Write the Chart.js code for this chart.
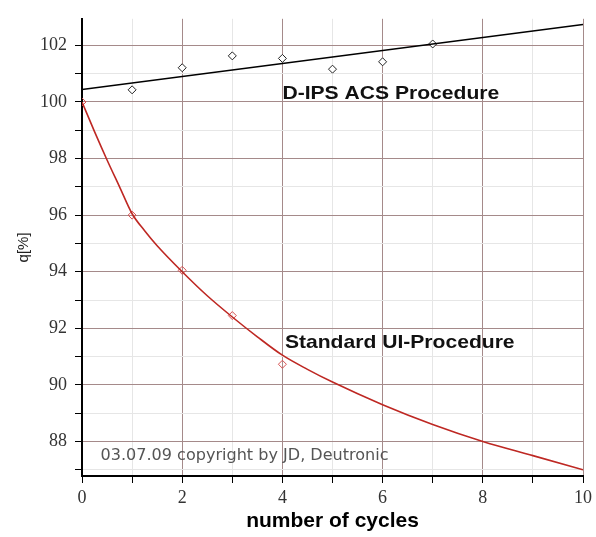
<!DOCTYPE html>
<html>
<head>
<meta charset="utf-8">
<script src="https://cdn.jsdelivr.net/npm/chart.js@4/dist/chart.umd.min.js"></script>
<style>
  html, body { margin: 0; padding: 0; background: #fff; }
  #wrap { width: 596px; height: 537px; }
</style>
</head>
<body>
<div id="wrap"><canvas id="chart" width="596" height="537"></canvas></div>
<script>
// measured points, D-IPS ACS procedure
const acsCycles = [1, 2, 3, 4, 5, 6, 7];
const acsValues = [100.43, 101.21, 101.63, 101.54, 101.16, 101.42, 102.05];
// linear fit of the ACS points
const acsFitCycles = [0, 10];
const acsFitValues = [100.44, 102.74];

// measured points, standard UI procedure
const stdCycles = [0, 1, 2, 3, 4];
const stdValues = [100, 96.0, 94.05, 92.45, 90.73];
// fitted curve for the standard procedure
const stdFitCycles = [0, 0.25, 0.5, 0.75, 1, 1.25, 1.5, 2, 2.5, 3, 3.5, 4, 4.5, 5, 6, 7, 8, 9, 10];
const stdFitValues = [100, 98.95, 97.95, 97.0, 96.05, 95.45, 94.92, 94.0, 93.15, 92.4, 91.7, 91.05, 90.55, 90.1, 89.3, 88.6, 88.0, 87.5, 87.0];

// text labels placed in data units
const labelTexts = ['D-IPS ACS Procedure', 'Standard UI-Procedure', '03.07.09 copyright by JD, Deutronic'];
const labelX = [4.0, 4.05, 0.37];
const labelY = [100.28, 91.5, 87.48];

const xTitle = 'number of cycles';
const yTitle = 'q[%]';

function pts(xs, ys) {
    return xs.map((x, i) => ({ x: x, y: ys[i] }));
}

const labelFonts = [
    'bold 19px "Liberation Sans", Arial, sans-serif',
    'bold 19px "Liberation Sans", Arial, sans-serif',
    '15px "DejaVu Sans", sans-serif'
];
const labelStretch = [1.11, 1.11, 1.07];
const labelColors = ['#111', '#111', '#555'];

// free text drawn on the plot, slightly widened like the original
const textLabels = {
    id: 'textLabels',
    afterDatasetsDraw(chart) {
        const ctx = chart.ctx;
        const xs = chart.scales.x, ys = chart.scales.y;
        labelTexts.forEach((t, i) => {
            ctx.save();
            ctx.textBaseline = 'middle';
            ctx.textAlign = 'left';
            ctx.font = labelFonts[i];
            ctx.fillStyle = labelColors[i];
            ctx.translate(xs.getPixelForValue(labelX[i]), ys.getPixelForValue(labelY[i]));
            ctx.scale(labelStretch[i], 1);
            ctx.fillText(t, 0, 0);
            ctx.restore();
        });
    }
};

const majorGrid = 'rgb(165,138,138)';
const minorGrid = 'rgb(230,230,230)';

new Chart(document.getElementById('chart'), {
    type: 'scatter',
    data: {
        datasets: [
            {
                data: pts(acsFitCycles, acsFitValues),
                showLine: true,
                borderColor: '#000',
                borderWidth: 1.6,
                pointRadius: 0
            },
            {
                data: pts(acsCycles, acsValues),
                pointStyle: 'rectRot',
                pointRadius: 4,
                borderColor: '#222',
                borderWidth: 1,
                backgroundColor: '#fff'
            },
            {
                data: pts(stdFitCycles, stdFitValues),
                showLine: true,
                cubicInterpolationMode: 'monotone',
                borderColor: 'rgb(190,40,35)',
                borderWidth: 1.6,
                pointRadius: 0
            },
            {
                data: pts(stdCycles, stdValues),
                pointStyle: 'rectRot',
                pointRadius: 4,
                borderColor: 'rgb(215,80,80)',
                borderWidth: 1,
                backgroundColor: 'rgba(255,255,255,0)'
            }
        ]
    },
    options: {
        responsive: false,
        animation: false,
        layout: { padding: { left: 0, top: 13, right: 9, bottom: 0 } },
        plugins: {
            legend: { display: false },
            tooltip: { enabled: false }
        },
        scales: {
            x: {
                type: 'linear',
                min: 0,
                max: 10,
                afterFit(scale) { scale.height = 61; },
                border: { display: true, color: '#000', width: 2 },
                grid: {
                    color: (c) => (c.tick && c.tick.value % 2 === 0) ? majorGrid : minorGrid,
                    tickColor: '#000',
                    tickLength: 7,
                    lineWidth: 1
                },
                ticks: {
                    stepSize: 1,
                    padding: 4,
                    color: '#333',
                    font: { family: '"Liberation Serif", serif', size: 18 },
                    callback: (v) => v % 2 === 0 ? String(v) : ''
                },
                title: {
                    display: true,
                    text: xTitle,
                    color: '#000',
                    font: { family: '"Liberation Sans", Arial, sans-serif', size: 21, weight: 'bold' },
                    padding: { top: 0, bottom: 3 }
                }
            },
            y: {
                type: 'linear',
                min: 86.78,
                max: 102.94,
                afterFit(scale) { scale.width = 82; },
                border: { display: true, color: '#000', width: 2 },
                grid: {
                    color: (c) => (c.tick && c.tick.value % 2 === 0) ? majorGrid : minorGrid,
                    tickColor: '#000',
                    tickLength: 7,
                    lineWidth: 1
                },
                ticks: {
                    stepSize: 1,
                    includeBounds: false,
                    padding: 8,
                    color: '#333',
                    font: { family: '"Liberation Serif", serif', size: 18 },
                    callback: (v) => v % 2 === 0 ? String(v) : ''
                },
                title: {
                    display: true,
                    text: yTitle,
                    color: '#222',
                    font: { family: '"Liberation Sans", Arial, sans-serif', size: 15 },
                    padding: { top: 15, bottom: 0 }
                }
            }
        }
    },
    plugins: [textLabels]
});
</script>
</body>
</html>
